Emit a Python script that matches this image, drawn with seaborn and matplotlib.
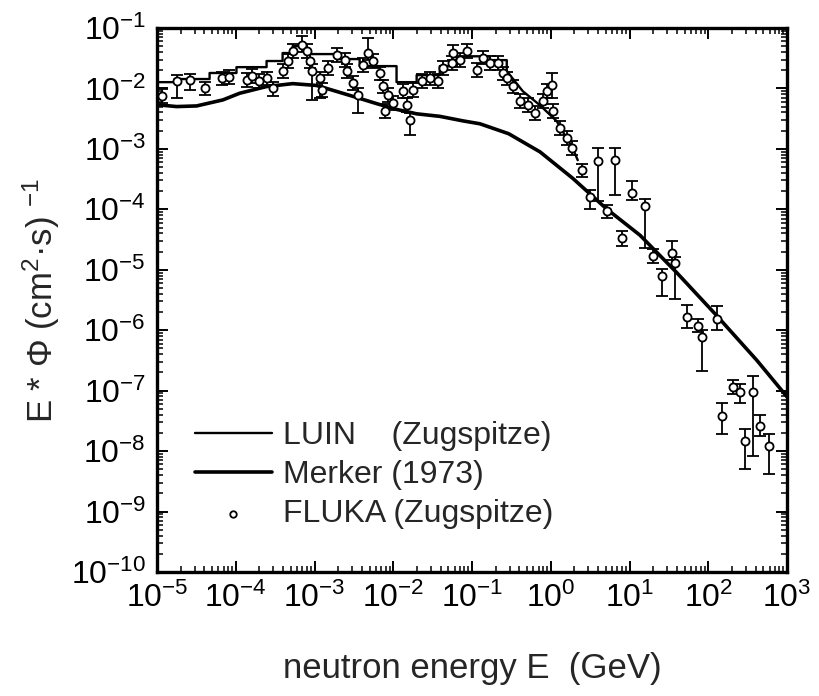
import numpy as np
import pandas as pd
import matplotlib
matplotlib.use("Agg")
import matplotlib.pyplot as plt
from matplotlib.ticker import LogLocator, LogFormatterSciNotation, NullFormatter
import seaborn as sns

# ---------------- data ----------------
# LUIN (Zugspitze): histogram-like calculation
luin_edges = [1.0e-5, 1.67e-5, 4.65e-5, 1.02e-4, 2.46e-4, 3.93e-4, 5.27e-4, 7.94e-4,
              1.91e-3, 3.74e-3, 1.10e-2, 1.98e-2, 3.89e-2, 6.4e-2, 0.168, 0.276]
luin_levels = [1.27e-2, 1.43e-2, 1.8e-2, 2.25e-2, 2.84e-2, 3.85e-2, 5.0e-2, 3.7e-2,
               3.06e-2, 2.34e-2, 1.27e-2, 1.66e-2, 2.34e-2, 3.4e-2, 2.94e-2]
luin_tail_E = [0.276, 0.441, 0.725, 1.19, 1.9, 2.2]
luin_tail_phi = [1.94e-2, 9.0e-3, 5.3e-3, 2.87e-3, 1.02e-3, 6.5e-4]

# Merker (1973)
merker_E = [1.0e-5, 1.77e-5, 3.18e-5, 6.87e-5, 1.12e-4, 2.43e-4, 5.27e-4, 1.06e-3,
            1.91e-3, 3.43e-3, 6.15e-3, 1.10e-2, 1.98e-2, 3.91e-2, 7.71e-2, 0.126,
            0.292, 0.73, 1.91, 5.09, 13.6, 39.9, 126, 415, 1000]
merker_phi = [5.37e-3, 5.01e-3, 5.13e-3, 6.46e-3, 8.32e-3, 1.07e-2, 1.20e-2, 1.12e-2,
              8.91e-3, 7.08e-3, 5.6e-3, 4.5e-3, 3.8e-3, 3.45e-3, 2.9e-3, 2.6e-3,
              1.78e-3, 8.91e-4, 3.24e-4, 1.02e-4, 3.72e-5, 8.91e-6, 1.78e-6, 3.16e-7, 7.9e-8]

# FLUKA (Zugspitze): points with error bars (lower / upper bound)
fluka_E = [1.17e-5, 1.77e-5, 2.59e-5, 4.01e-5, 6.6e-5, 8.3e-5, 1.37e-4, 1.59e-4, 2.0e-4, 2.46e-4,
           2.94e-4, 3.93e-4, 4.55e-4, 5.27e-4, 6.86e-4, 7.94e-4, 8.67e-4, 9.2e-4, 1.16e-3, 1.23e-3,
           1.47e-3, 1.91e-3, 2.41e-3, 2.56e-3, 3.05e-3, 3.53e-3, 4.08e-3, 4.73e-3, 5.47e-3, 6.72e-3,
           7.33e-3, 7.78e-3, 8.49e-3, 9.83e-3, 1.32e-2, 1.48e-2, 1.62e-2, 1.76e-2, 2.3e-2, 2.9e-2,
           3.66e-2, 4.24e-2, 5.52e-2, 5.69e-2, 6.98e-2, 8.57e-2, 0.115, 0.137, 0.168, 0.212,
           0.245, 0.276, 0.329, 0.404, 0.51, 0.626, 0.791, 0.89, 1.03, 1.06,
           1.30, 1.6, 1.85, 2.48, 3.13, 3.96, 5.15, 6.5, 7.98, 10.7,
           15.6, 19.8, 25.7, 34.5, 37.6, 53.5, 73.8, 82.9, 128.6, 149,
           205, 252, 292, 369, 453, 589]
fluka_phi = [7.4e-3, 1.32e-2, 1.37e-2, 1.01e-2, 1.48e-2, 1.54e-2, 1.37e-2, 1.6e-2, 1.32e-2, 1.48e-2,
             1.0e-2, 1.94e-2, 2.84e-2, 4.16e-2, 5.2e-2, 4.2e-2, 2.84e-2, 1.94e-2, 1.48e-2, 9.4e-3,
             2.17e-2, 3.56e-2, 2.94e-2, 1.94e-2, 1.22e-2, 7.7e-3, 2.43e-2, 3.85e-2, 2.84e-2, 1.8e-2,
             1.09e-2, 4.2e-3, 7.7e-3, 5.7e-3, 9.0e-3, 5.3e-3, 3.0e-3, 9.4e-3, 1.32e-2, 1.48e-2,
             1.32e-2, 2.17e-2, 2.63e-2, 3.85e-2, 2.94e-2, 4.16e-2, 2.0e-2, 3.2e-2, 2.63e-2, 2.63e-2,
             1.8e-2, 1.48e-2, 1.09e-2, 6.2e-3, 5.3e-3, 3.9e-3, 6.2e-3, 9.0e-3, 1.13e-2, 4.2e-3,
             2.2e-3, 1.5e-3, 1.02e-3, 4.4e-4, 1.6e-4, 6.2e-4, 9.2e-5, 6.5e-4, 3.3e-5, 1.84e-4,
             1.12e-4, 1.66e-5, 8.0e-6, 1.86e-5, 1.27e-5, 1.68e-6, 1.19e-6, 7.8e-7, 1.55e-6, 3.8e-8,
             1.16e-7, 9.5e-8, 1.47e-8, 9.5e-8, 2.6e-8, 1.2e-8]
fluka_lo = [5.7e-3, 6.9e-3, 9.4e-3, 7.8e-3, 1.14e-2, 1.2e-2, 1.05e-2, 1.23e-2, 1.0e-2, 1.14e-2,
            7.5e-3, 1.5e-2, 2.2e-2, 3.2e-2, 4.0e-2, 3.2e-2, 2.2e-2, 6.4e-3, 6.9e-3, 7.2e-3,
            1.67e-2, 2.7e-2, 2.26e-2, 1.5e-2, 9.4e-3, 3.9e-3, 1.87e-2, 3.0e-2, 2.2e-2, 1.4e-2,
            8.4e-3, 3.2e-3, 5.9e-3, 4.4e-3, 6.9e-3, 4.1e-3, 1.68e-3, 7.2e-3, 1.0e-2, 1.14e-2,
            1.0e-2, 1.67e-2, 2.0e-2, 3.0e-2, 2.26e-2, 3.2e-2, 1.54e-2, 2.5e-2, 2.0e-2, 2.0e-2,
            1.4e-2, 1.14e-2, 8.4e-3, 4.8e-3, 4.1e-3, 3.0e-3, 4.8e-3, 6.9e-3, 6.9e-3, 3.2e-3,
            1.7e-3, 1.15e-3, 7.8e-4, 3.4e-4, 1.0e-4, 1.35e-4, 7.1e-5, 1.7e-4, 2.5e-5, 1.4e-4,
            2.25e-5, 1.28e-5, 3.7e-6, 1.43e-5, 3.3e-6, 1.1e-6, 9.2e-7, 2.1e-7, 1.0e-6, 1.9e-8,
            8.9e-8, 6.3e-8, 5.0e-9, 8.3e-9, 1.8e-8, 4.2e-9]
fluka_hi = [9.6e-3, 1.66e-2, 1.7e-2, 1.3e-2, 1.9e-2, 2.0e-2, 1.8e-2, 2.1e-2, 1.7e-2, 1.9e-2,
            1.3e-2, 2.5e-2, 3.7e-2, 5.4e-2, 7.4e-2, 5.5e-2, 3.7e-2, 2.5e-2, 1.9e-2, 1.22e-2,
            2.8e-2, 4.6e-2, 3.8e-2, 2.5e-2, 1.6e-2, 1.0e-2, 3.2e-2, 6.8e-2, 3.7e-2, 2.3e-2,
            1.4e-2, 5.5e-3, 1.0e-2, 7.4e-3, 1.17e-2, 6.9e-3, 3.9e-3, 1.22e-2, 1.7e-2, 1.9e-2,
            1.7e-2, 2.8e-2, 3.4e-2, 5.2e-2, 3.8e-2, 5.4e-2, 2.6e-2, 4.2e-2, 3.4e-2, 3.4e-2,
            2.3e-2, 1.9e-2, 1.4e-2, 8.1e-3, 6.9e-3, 5.1e-3, 8.1e-3, 1.17e-2, 1.8e-2, 5.5e-3,
            2.9e-3, 1.95e-3, 1.33e-3, 5.7e-4, 2.1e-4, 1.02e-3, 1.2e-4, 1.02e-3, 4.3e-5, 2.9e-4,
            1.46e-4, 2.2e-5, 1.04e-5, 2.95e-5, 1.65e-5, 2.6e-6, 1.55e-6, 1.0e-6, 2.5e-6, 6.2e-8,
            1.5e-7, 1.3e-7, 2.3e-8, 1.76e-7, 4.0e-8, 1.9e-8]

x_ticks = [1e-5, 1e-4, 1e-3, 1e-2, 1e-1, 1e0, 1e1, 1e2, 1e3]
y_ticks = [1e-10, 1e-9, 1e-8, 1e-7, 1e-6, 1e-5, 1e-4, 1e-3, 1e-2, 1e-1]

legend_labels = ["LUIN    (Zugspitze)", "Merker (1973)", "FLUKA (Zugspitze)"]
x_label = "neutron energy E  (GeV)"
y_label = "E * Φ (cm$^{2}$·s) $^{-1}$"

# ---------------- style ----------------
sns.set_style("ticks")
plt.rcParams["font.family"] = ["Liberation Sans", "DejaVu Sans"]
plt.rcParams["mathtext.fontset"] = "custom"
plt.rcParams["mathtext.rm"] = "Liberation Sans"
plt.rcParams["mathtext.it"] = "Liberation Sans:italic"
plt.rcParams["mathtext.bf"] = "Liberation Sans:bold"

fig = plt.figure(figsize=(8.2, 6.96), dpi=100)
ax = fig.add_axes([0.1915, 0.1782, 0.7683, 0.7816])
ax.set_xscale("log")
ax.set_yscale("log")

# LUIN step line
luin_x, luin_y = [], []
for i, lev in enumerate(luin_levels):
    luin_x += [luin_edges[i], luin_edges[i + 1]]
    luin_y += [lev, lev]
luin_x += luin_tail_E
luin_y += luin_tail_phi
luin_df = pd.DataFrame({"E": luin_x, "phi": luin_y})
sns.lineplot(data=luin_df, x="E", y="phi", estimator=None, sort=False,
             color="black", lw=1.7, ax=ax, label=legend_labels[0])

# Merker curve
merker_df = pd.DataFrame({"E": merker_E, "phi": merker_phi})
sns.lineplot(data=merker_df, x="E", y="phi", estimator=None, sort=False,
             color="black", lw=2.6, ax=ax, label=legend_labels[1])

# FLUKA points with error bars
fl = pd.DataFrame({"E": fluka_E, "phi": fluka_phi, "lo": fluka_lo, "hi": fluka_hi})
ax.errorbar(fl["E"], fl["phi"], yerr=[fl["phi"] - fl["lo"], fl["hi"] - fl["phi"]],
            fmt="none", ecolor="black", elinewidth=1.3, capsize=4.5, capthick=1.3, zorder=3)
sns.scatterplot(data=fl, x="E", y="phi", marker="o", s=34, facecolor="white",
                edgecolor="black", linewidth=1.3, ax=ax, zorder=4, label=legend_labels[2])

# axes
ax.xaxis.set_major_locator(LogLocator(base=10, numticks=20))
ax.yaxis.set_major_locator(LogLocator(base=10, numticks=20))
ax.xaxis.set_minor_locator(LogLocator(base=10, subs=np.arange(2, 10), numticks=200))
ax.yaxis.set_minor_locator(LogLocator(base=10, subs=np.arange(2, 10), numticks=200))
ax.xaxis.set_major_formatter(LogFormatterSciNotation())
ax.yaxis.set_major_formatter(LogFormatterSciNotation())
ax.xaxis.set_minor_formatter(NullFormatter())
ax.yaxis.set_minor_formatter(NullFormatter())
ax.set_xticks(x_ticks)
ax.set_yticks(y_ticks)
ax.set_xlim(1e-5, 1e3)
ax.set_ylim(1e-10, 1e-1)

ax.tick_params(which="both", direction="in", top=True, right=True, colors="black")
ax.tick_params(which="major", length=8, width=1.4, labelsize=23, pad=8)
ax.tick_params(which="minor", length=4, width=1.1)
for sp in ax.spines.values():
    sp.set_linewidth(2.4)
    sp.set_color("black")

ax.set_xlabel(x_label, fontsize=25)
ax.set_ylabel(y_label, fontsize=25)
ax.xaxis.set_label_coords(0.5, -0.147)
ax.yaxis.set_label_coords(-0.151, 0.5)

handles, labels = ax.get_legend_handles_labels()
leg = ax.legend(handles, labels, loc="lower left", bbox_to_anchor=(0.04, 0.055),
                frameon=False, fontsize=23, handlelength=2.4, handletextpad=0.35,
                labelspacing=0.28, borderaxespad=0.0, markerscale=0.8)

fig.savefig("out.png", dpi=100)
